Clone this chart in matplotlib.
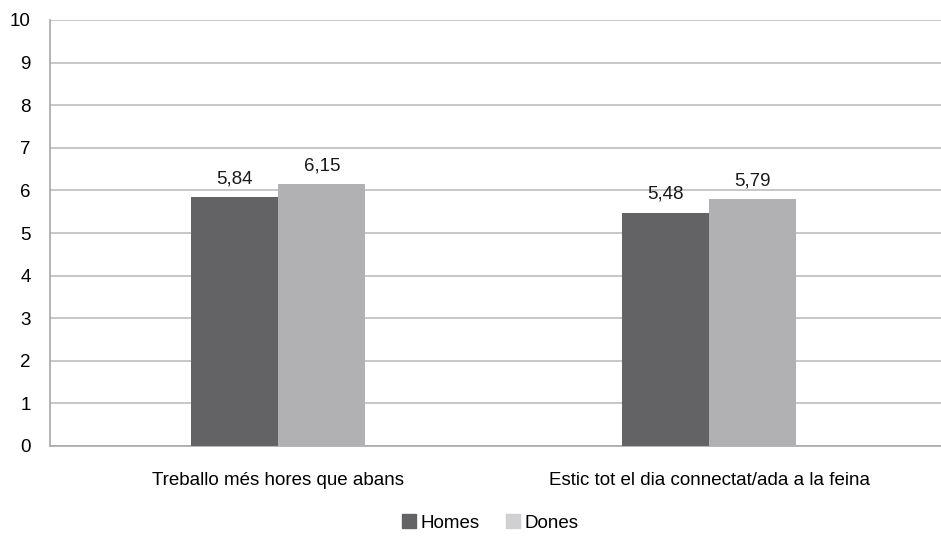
import matplotlib.pyplot as plt
import numpy as np
from matplotlib.patches import Patch

categories = ["Treballo més hores que abans", "Estic tot el dia connectat/ada a la feina"]
homes = [5.84, 5.48]
dones = [6.15, 5.79]
homes_labels = ["5,84", "5,48"]
dones_labels = ["6,15", "5,79"]

plt.rcParams['font.family'] = ['Liberation Sans', 'DejaVu Sans']
fs = 13.5

fig = plt.figure(figsize=(9.41, 5.39), dpi=100)
ax = fig.add_axes([50 / 941, 1 - 446 / 539, 1 - 50 / 941 + 0.01, (446 - 20) / 539])

x = np.arange(len(categories))
w = 0.202
b1 = ax.bar(x - w / 2, homes, w, color='#636365', zorder=3)
b2 = ax.bar(x + w / 2, dones, w, color='#b1b1b3', zorder=3)

# value labels above bars
for bars, labs in [(b1, homes_labels), (b2, dones_labels)]:
    for rect, lab in zip(bars, labs):
        ax.annotate(lab, (rect.get_x() + rect.get_width() / 2, rect.get_height()),
                    xytext=(0, 7), textcoords='offset points',
                    ha='center', va='bottom', fontsize=fs, color='#1a1a1a')

ax.set_ylim(0, 10)
ax.set_yticks(range(0, 11))
ax.set_xlim(-0.530, 1.56)
ax.set_xticks(x)
ax.set_xticklabels(categories, fontsize=fs)
ax.tick_params(axis='y', labelsize=fs, length=0, pad=14)
ax.tick_params(axis='x', length=0, pad=19)
ax.grid(axis='y', color='#bdbdbd', linewidth=1.2, zorder=0)
for s in ['top', 'right']:
    ax.spines[s].set_visible(False)
ax.spines['left'].set_color('#a8a8a8')
ax.spines['bottom'].set_color('#a8a8a8')
ax.spines['left'].set_linewidth(1.2)
ax.spines['bottom'].set_linewidth(1.2)

handles = [Patch(color='#636365', label='Homes'), Patch(color='#d0d0d2', label='Dones')]
fig.legend(handles=handles, loc='center', bbox_to_anchor=(490 / 941, 1 - 523 / 539),
           ncol=2, frameon=False, fontsize=fs, handlelength=0.75, handleheight=0.75,
           handletextpad=0.25, columnspacing=1.4)

fig.savefig('out.png', dpi=100)
